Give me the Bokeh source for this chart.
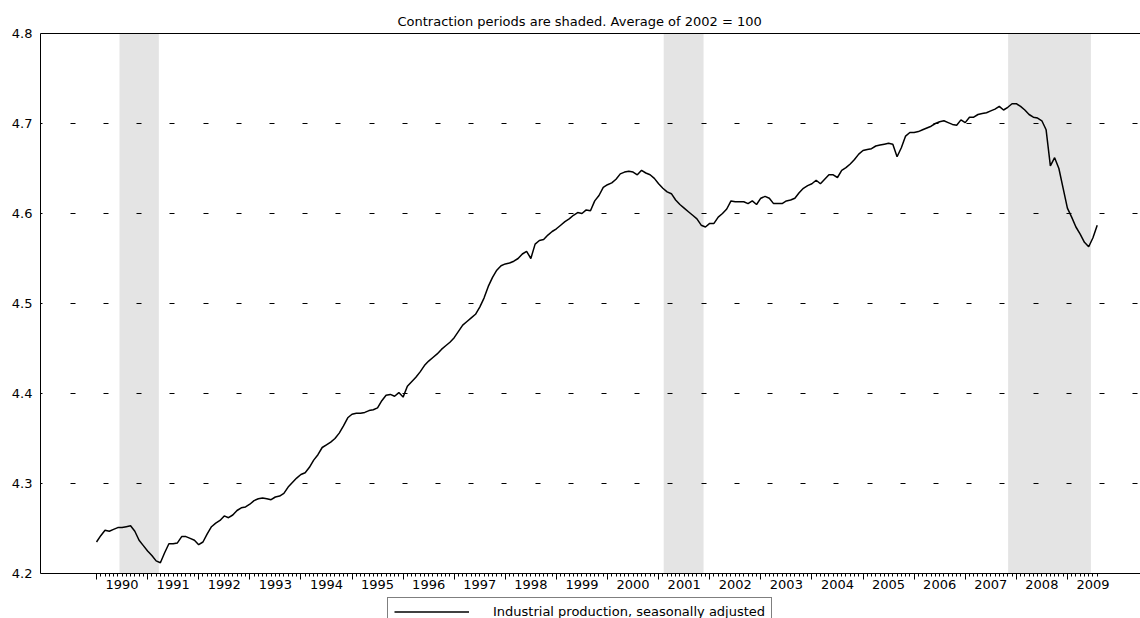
from bokeh.plotting import figure
from bokeh.layouts import column
from bokeh.models import FixedTicker, LinearAxis, Legend, LegendItem, Range1d, ColumnDataSource
from bokeh.embed import file_html
from bokeh.resources import INLINE

# ---- data ----
start_year = 1990
ip_log = [
    4.235, 4.242, 4.248, 4.247, 4.249, 4.251, 4.251, 4.252, 4.253, 4.247, 4.237, 4.231,
    4.225, 4.220, 4.214, 4.212, 4.223, 4.233, 4.233, 4.234, 4.241, 4.241, 4.239, 4.237,
    4.232, 4.235, 4.244, 4.252, 4.256, 4.259, 4.264, 4.262, 4.265, 4.270, 4.273, 4.274,
    4.277, 4.281, 4.283, 4.284, 4.283, 4.282, 4.285, 4.286, 4.289, 4.296, 4.301, 4.306,
    4.310, 4.312, 4.318, 4.326, 4.332, 4.340, 4.343, 4.346, 4.350, 4.356, 4.364, 4.373,
    4.377, 4.378, 4.378, 4.379, 4.381, 4.382, 4.384, 4.392, 4.398, 4.399, 4.397, 4.401,
    4.396, 4.408, 4.413, 4.418, 4.424, 4.431, 4.436, 4.440, 4.444, 4.449, 4.453, 4.457,
    4.462, 4.469, 4.476, 4.480, 4.484, 4.488, 4.496, 4.506, 4.519, 4.529, 4.537, 4.542,
    4.544, 4.545, 4.547, 4.550, 4.555, 4.558, 4.550, 4.566, 4.570, 4.571, 4.576, 4.580,
    4.583, 4.587, 4.591, 4.594, 4.598, 4.601, 4.600, 4.604, 4.603, 4.614, 4.620, 4.629,
    4.632, 4.634, 4.638, 4.644, 4.646, 4.647, 4.646, 4.643, 4.648, 4.645, 4.643, 4.639,
    4.633, 4.628, 4.624, 4.622, 4.615, 4.610, 4.606, 4.602, 4.598, 4.594, 4.587, 4.585,
    4.589, 4.589, 4.596, 4.600, 4.605, 4.614, 4.613, 4.613, 4.613, 4.611, 4.614, 4.610,
    4.617, 4.619, 4.617, 4.611, 4.611, 4.611, 4.614, 4.615, 4.617, 4.623, 4.628, 4.631,
    4.633, 4.637, 4.633, 4.638, 4.643, 4.643, 4.640, 4.648, 4.651, 4.655, 4.660, 4.666,
    4.670, 4.671, 4.672, 4.675, 4.676, 4.677, 4.678, 4.677, 4.663, 4.673, 4.686, 4.690,
    4.690, 4.691, 4.693, 4.695, 4.697, 4.700, 4.702, 4.703, 4.701, 4.699, 4.698, 4.704,
    4.701, 4.707, 4.707, 4.710, 4.711, 4.712, 4.714, 4.716, 4.719, 4.715, 4.718, 4.722,
    4.722, 4.719, 4.715, 4.710, 4.707, 4.706, 4.703, 4.693, 4.653, 4.662, 4.650, 4.628,
    4.606, 4.596, 4.585, 4.577, 4.568, 4.563, 4.573, 4.587,
]
recession_start = [1990.45, 2001.10, 2007.84]
recession_end = [1991.22, 2001.88, 2009.46]
year_labels = [str(y) for y in range(1990, 2010)]
y_ticks = [4.2, 4.3, 4.4, 4.5, 4.6, 4.7, 4.8]
y_tick_labels = ["4.2", "4.3", "4.4", "4.5", "4.6", "4.7", "4.8"]
title_text = "Contraction periods are shaded. Average of 2002 = 100"
series_name = "Industrial production, seasonally adjusted"

months = [start_year + i / 12 for i in range(len(ip_log))]
year_starts = [int(y) for y in year_labels]
year_mids = [y + 0.5 for y in year_starts]

FONT = "DejaVu Sans"

x0 = 1988.904
px_per_year = 51.1
frame_w = 1100

p = figure(frame_width=frame_w, frame_height=540, output_backend="svg", toolbar_location=None,
           x_range=Range1d(x0, x0 + frame_w / px_per_year), y_range=Range1d(4.2, 4.8),
           min_border_left=40, min_border_right=0, min_border_top=33, min_border_bottom=24)
p.outline_line_color = None
p.background_fill_color = "white"
p.border_fill_color = "white"

p.title.text = title_text
p.title.align = "left"
p.title.offset = 357
p.title.text_font = FONT
p.title.text_font_size = "13px"
p.title.text_font_style = "normal"
p.title.text_color = "black"
p.title.standoff = 9

# shading
shade = ColumnDataSource(dict(left=recession_start, right=recession_end,
                              bottom=[4.2] * len(recession_start), top=[4.8] * len(recession_start)))
r = p.quad(left="left", right="right", bottom="bottom", top="top", source=shade,
           fill_color="#e4e4e4", line_color=None)
r.level = "image"

line = p.line(months, ip_log, line_color="black", line_width=1.5)

# x axis: ticks
xa = p.xaxis[0]
xa.ticker = FixedTicker(ticks=year_starts, minor_ticks=months)
xa.major_label_overrides = {y: "" for y in year_starts}
xa.major_label_text_font_size = "0px"
xa.major_label_standoff = 0
xa.major_tick_out = 6
xa.major_tick_in = 0
xa.minor_tick_out = 3
xa.minor_tick_in = 0
xa.axis_line_color = "black"
xa.major_tick_line_color = "black"
xa.minor_tick_line_color = "black"

# x axis: year labels centred in each year
xl = LinearAxis(ticker=FixedTicker(ticks=year_mids, minor_ticks=[]),
                major_label_overrides={m: l for m, l in zip(year_mids, year_labels)},
                major_tick_out=0, major_tick_in=0, minor_tick_out=0, minor_tick_in=0,
                axis_line_color=None, major_label_standoff=0,
                major_label_text_font=FONT, major_label_text_font_size="13px",
                major_label_text_color="black")
p.add_layout(xl, "below")

# top border
top = LinearAxis(ticker=FixedTicker(ticks=[]), major_tick_out=0, major_tick_in=0,
                 minor_tick_out=0, minor_tick_in=0, major_label_text_font_size="0px",
                 major_label_standoff=0, axis_line_color="black")
p.add_layout(top, "above")

# y axis
ya = p.yaxis[0]
ya.ticker = FixedTicker(ticks=y_ticks, minor_ticks=[])
ya.major_label_overrides = {t: l for t, l in zip(y_ticks, y_tick_labels)}
ya.major_tick_out = 0
ya.major_tick_in = 0
ya.minor_tick_out = 0
ya.minor_tick_in = 0
ya.major_label_standoff = 8
ya.major_label_text_font = FONT
ya.major_label_text_font_size = "13px"
ya.major_label_text_color = "black"
ya.axis_line_color = "black"

p.xgrid.grid_line_color = None
p.ygrid.ticker = FixedTicker(ticks=y_ticks)
p.ygrid.grid_line_color = "black"
p.ygrid.grid_line_width = 1
p.ygrid.grid_line_dash = "5 28 5 28 5 28 5 28 5 29"
p.ygrid.grid_line_dash_offset = 3

# legend strip below the chart (the legend box runs off the bottom edge, as in the original)
leg_fig = figure(width=1140, height=21, output_backend="svg", toolbar_location=None,
                 x_axis_type=None, y_axis_type=None,
                 x_range=Range1d(x0, x0 + frame_w / px_per_year), y_range=Range1d(0, 1),
                 min_border_left=0, min_border_right=0, min_border_top=0, min_border_bottom=0)
leg_fig.outline_line_color = None
leg_fig.xgrid.visible = False
leg_fig.ygrid.visible = False
leg_line = leg_fig.line(months, ip_log, line_color="black", line_width=1.5)

legend = Legend(items=[LegendItem(label=series_name, renderers=[leg_line])],
                location=(347, -8), orientation="vertical",
                glyph_width=75, glyph_height=15, label_height=15, label_standoff=24,
                padding=6, margin=0, spacing=0,
                label_text_font=FONT, label_text_font_size="13px", label_text_color="black",
                border_line_color="black", border_line_width=1, background_fill_color="white",
                background_fill_alpha=1.0)
leg_fig.add_layout(legend, "center")

layout = column(p, leg_fig, spacing=0)
open("out.html", "w").write(file_html(layout, INLINE))
